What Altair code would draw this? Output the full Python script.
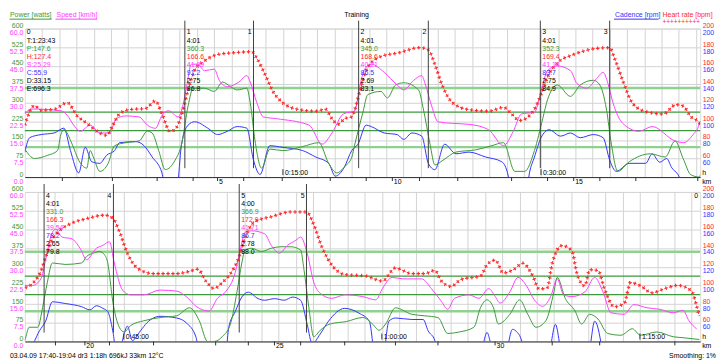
import altair as alt
import pandas as pd

# ---------------- data (x = minutes from start) ----------------
power_t = [0, 0.56, 1.33, 1.9, 2.09, 2.27, 2.75, 3.13, 3.6, 3.8,
           3.98, 4.36, 4.84, 5.22, 5.88, 6.64, 7.12, 7.4, 7.78, 8.16,
           8.73, 9.11, 9.49, 9.78, 10.44, 11.01, 11.49, 11.96, 12.34, 12.9,
           13.1, 13.38, 13.76, 14.24, 15.0, 16.14, 17.09, 17.66, 18.13, 18.6,
           19.0, 19.18, 19.65, 19.93, 20.7, 21.07, 21.55, 22.02, 22.88, 23.16,
           23.55, 23.83, 24.3, 25.06, 26.2, 27.15, 27.82, 28.48, 29.05, 29.62,
           30.1, 30.38, 30.95, 31.71, 32.28, 33.04, 33.42, 33.8, 34.09, 34.46,
           35.13, 36.36, 37.22, 37.79, 38.26, 38.7, 39.2,
           39.25, 39.5, 40.0, 40.28, 40.56, 40.85, 41.6, 42.55, 42.84, 43.22,
           43.6, 43.88, 44.07, 44.36, 44.74, 45.02, 45.4, 46.16, 47.11, 48.07,
           48.82, 49.39, 49.87, 50.25, 50.72, 51.2, 51.58, 51.86, 52.05, 52.43,
           53.0, 53.57, 54.14, 54.71, 55.28, 55.47, 55.76, 56.04, 56.42, 56.99,
           57.94, 58.89, 59.46, 59.84, 60.22, 60.79, 61.74, 62.5, 63.26, 63.83,
           64.5, 65.35, 65.73, 66.11, 66.49, 66.77, 67.44, 68.01, 68.48, 68.96,
           69.53, 70.0, 70.19, 70.66, 71.23, 71.61, 72.08, 72.56, 73.13, 73.89,
           74.56, 75.03, 75.98, 76.93, 77.5, 78.45]
power_w = [113, 75, 88, 107, 171, 191, 133, 68, 36, 107,
           81, 23, 55, 127, 139, 146, 185, 178, 107, 30,
           68, 133, 288, 359, 359, 346, 384, 365, 352, 359,
           300, 146, 36, 113, 107, 123, 139, 55, 17, 43,
           80, 133, 262, 333, 346, 320, 372, 381, 352, 275,
           133, 49, 68, 101, 110, 127, 139, 23, 23, 107,
           236, 313, 372, 326, 372, 391, 372, 275, 133, 23,
           62, 94, 81, 146, 75, 10, 0,
           6, 57, 57, 135, 238, 315, 309, 315, 341, 354,
           361, 348, 315, 161, 57, 38, 64, 83, 96, 103,
           135, 83, 0, 0, 19, 70, 199, 315, 367, 374,
           361, 374, 380, 380, 367, 290, 135, 19, 45, 70,
           80, 96, 70, 45, 70, 135, 109, 103, 96, 32,
           38, 57, 135, 167, 135, 70, 109, 167, 109, 57,
           83, 199, 257, 173, 122, 70, 109, 90, 32, 25,
           51, 25, 38, 19, 15, 8]

speed_t = [0, 0.38, 2.09, 2.47, 2.84, 3.22, 3.8, 4.36, 4.93, 5.31,
           5.88, 6.64, 7.12, 7.59, 7.97, 8.35, 8.92, 9.2, 9.4, 9.68,
           10.06, 10.44, 11.01, 11.3, 11.77, 12.44, 12.9, 13.1, 13.48, 13.86,
           14.62, 16.52, 17.28, 17.85, 18.51, 19.18, 19.46, 19.75, 20.13, 20.89,
           21.64, 22.02, 22.6, 23.07, 23.26, 23.64, 24.02, 24.87, 25.82, 26.96,
           27.82, 28.39, 28.86, 29.62, 30.0, 30.38, 30.95, 31.71, 32.09, 32.66,
           33.23, 33.61, 33.89, 34.18, 34.75, 35.7, 36.46, 37.79, 38.3, 38.83,
           39.15,
           39.25, 39.7, 40.18, 40.46, 40.75, 41.03, 41.41, 41.98, 42.46, 42.84,
           43.41, 43.79, 44.17, 44.45, 44.93, 45.4, 46.16, 47.11, 48.07, 48.63,
           49.2, 49.96, 50.44, 50.91, 51.48, 51.77, 52.05, 52.43, 53.19, 53.57,
           54.05, 54.52, 55.0, 55.28, 55.66, 56.04, 56.42, 57.09, 57.84, 58.89,
           59.65, 60.03, 60.6, 61.26, 62.31, 62.88, 63.46, 63.83, 64.22, 65.07,
           65.64, 66.21, 66.59, 66.87, 67.44, 67.91, 68.39, 68.86, 69.34, 69.81,
           70.19, 70.57, 71.04, 71.8, 72.37, 72.85, 73.32, 74.08, 74.65, 75.41,
           76.17, 76.93, 77.5, 77.85, 78.3]
speed_kmh = [25.5, 27.5, 26.8, 24.9, 21, 18.5, 21, 17.8, 17.8, 23.6,
             24.7, 24.3, 21, 19.7, 24.9, 26.8, 24.3, 29.4, 36.5, 45.6,
             45.6, 43, 43.6, 39.1, 36.5, 38.4, 41, 38.4, 30.1, 24.3,
             23.6, 21, 13.3, 17.8, 25.5, 26.8, 36.5, 43.6, 45.6, 42.3,
             37.2, 35.2, 39.1, 41, 37.8, 28.8, 22.3, 21.7, 21.3, 19.1,
             12.7, 18.5, 25.5, 26.2, 34.6, 43, 44.9, 43, 37.8, 35.9,
             39.8, 42.3, 37.8, 30.1, 21.7, 18.5, 20.4, 14.6, 13.9, 17.1,
             20.4,
             22.5, 22.5, 25.1, 32.8, 41.9, 45.1, 41.9, 41.2, 37.4, 32.8,
             37.4, 38.6, 40, 31.5, 20.6, 18.7, 18.7, 20.6, 20.2, 18,
             14.1, 12.2, 17.3, 19.9, 27.7, 36.7, 43.8, 44.4, 43.2, 38.6,
             35.4, 38.6, 40.6, 41.9, 35.4, 23.8, 19.3, 17.3, 18.7, 18,
             16.7, 21.2, 25.7, 25.1, 25.1, 21.2, 16.1, 12.9, 17.3, 18.7,
             17.3, 21.2, 18, 15.4, 19.9, 25.7, 22.5, 16.7, 14.1, 18,
             25.1, 18.7, 18, 19.9, 25.7, 19.9, 11.5, 10.9, 14.8, 13.5,
             12.9, 11.5, 12.5, 8.3, 5]

hr_t = [0, 0.56, 0.95, 1.7, 2.47, 3.04, 3.6, 4.36, 4.75, 5.12,
        5.5, 6.07, 7.02, 7.59, 7.97, 8.45, 8.83, 9.2, 9.49, 9.87,
        10.44, 11.2, 12.15, 13.19, 13.48, 13.95, 14.43, 15.0, 15.95, 16.9,
        17.47, 17.85, 18.2, 18.6, 19.0, 19.18, 19.46, 19.93, 20.7, 21.64,
        22.98, 23.45, 23.83, 24.3, 24.87, 25.82, 26.96, 27.82, 28.29, 28.76,
        29.24, 29.72, 30.0, 30.38, 30.95, 31.9, 33.23, 33.99, 34.27, 34.75,
        35.3, 36.08, 37.1, 37.85, 38.26, 38.71, 39.2,
        39.25, 39.9, 40.18, 40.46, 40.85, 41.23, 41.98, 42.94, 43.88, 44.36,
        44.74, 45.22, 45.79, 46.73, 48.07, 48.82, 49.3, 49.77, 50.25, 50.72,
        51.29, 51.67, 52.05, 52.62, 53.57, 54.71, 55.62, 56.04, 56.52, 57.09,
        57.84, 59.08, 60.03, 60.79, 61.74, 62.5, 63.08, 63.46, 64.03, 64.6,
        65.73, 66.11, 66.59, 67.06, 67.63, 68.2, 68.77, 69.15, 69.62, 69.9,
        70.47, 71.04, 71.33, 71.8, 72.08, 72.56, 72.94, 73.51, 74.08, 74.46,
        75.03, 75.7, 76.36, 77.2, 78.0, 78.25, 78.45]
hr_bpm = [96, 117, 112, 113, 120, 106, 98, 87.5, 85, 96,
          108, 112.6, 114, 122, 108, 89, 94, 113, 134, 155,
          165, 172, 174, 175, 168, 151, 132, 120, 112.6, 111,
          113, 103, 97, 103, 105, 113, 132, 158, 170, 173.5,
          179.4, 177, 161.5, 137, 120, 112.6, 111, 115, 108, 101,
          104.7, 116.7, 128.8, 147.7, 163, 172, 178.6, 179.4, 168, 144,
          120, 110.5, 108, 118, 116.5, 105, 99,
          97.8, 106.4, 115, 130.5, 149.4, 158, 166.6, 171.8, 175.2, 171.8,
          158, 134, 118.5, 112.6, 112.6, 115, 117.4, 104.7, 96.8, 103,
          115, 128.8, 151.2, 168.3, 173.5, 178.6, 178.6, 165, 140.9, 121.9,
          111.6, 110, 104.7, 118.5, 112.6, 112.6, 116, 104.7, 98.9, 106.4,
          110, 121.9, 127, 113.3, 116.7, 123.6, 110, 96.1, 97.8, 123.6,
          142.5, 137.4, 113.3, 99.6, 116.7, 116, 96.1, 77.2, 80.6, 103,
          99.6, 92, 96, 100, 94, 81, 67]

cad_t = [0, 0.28, 0.95, 1.7, 2.27, 2.65, 3.13, 3.51, 3.89, 4.36,
         4.75, 5.22, 5.5, 6.45, 6.93, 7.4, 7.97, 8.3, 8.7, 9.11,
         9.49, 9.87, 10.63, 11.2, 11.77, 12.34, 12.9, 13.29, 13.67, 14.24,
         15.0, 16.14, 16.9, 17.66, 18.04, 18.55, 19.0, 19.36, 19.84, 20.13,
         20.89, 21.64, 22.02, 22.5, 23.07, 23.45, 23.83, 24.4, 25.06, 25.82,
         26.77, 27.72, 28.1, 28.39, 29.0, 29.33, 29.62, 30.0, 30.47, 31.14,
         31.71, 32.28, 33.04, 33.61, 33.99, 34.37, 35.13, 36.08, 36.46, 36.9,
         37.3, 37.6, 37.95, 38.4, 39.2,
         39.25, 39.75, 40.1, 40.46, 40.85, 41.6, 42.55, 43.03, 43.41, 43.79,
         44.07, 44.36, 44.64, 45.02, 45.21, 45.5, 45.97, 46.35, 47.11, 48.07,
         48.63, 49.2, 49.58, 50.8, 51.1, 51.48, 51.86, 52.24, 52.81, 53.19,
         53.76, 54.33, 54.81, 55.28, 55.66, 55.95, 56.42, 56.9, 57.84, 58.67,
         59.27, 59.65, 60.03, 60.41, 60.79, 61.74, 62.4, 62.69, 63.08, 63.46,
         65.6, 65.93, 66.11, 66.29, 66.6, 67.1, 67.38, 67.6, 67.8, 68.14,
         68.4, 69.6, 69.86, 70.09, 70.31, 70.6, 71.9, 72.15, 72.37, 72.72,
         73.0, 78.45]
cad_rpm = [66.9, 82.4, 85.8, 87.5, 92.7, 68.6, 44.5, 72, 56.5, 54.8,
           63.5, 68.6, 77, 78.2, 73.8, 61.7, 44.5, 0, 0, 75.4,
           96, 99.6, 92.7, 85.8, 89.3, 94.4, 92.7, 58.3, 42.8, 73.8,
           72, 68.6, 61.7, 54.8, 41, 50, 68.6, 75.4, 96, 94.4,
           87.5, 85.8, 80.6, 87.5, 84.1, 54.8, 48, 75.4, 65.1, 66.9,
           61.7, 56.5, 41, 0, 0, 44.5, 61.7, 82.4, 91, 84.1,
           87.5, 82.4, 85.8, 82.4, 58.3, 46.2, 54.8, 54.8, 65, 56,
           60, 50, 43, 25, 0,
           20, 38, 51.4, 61.7, 82.4, 80.6, 77.2, 73.8, 78.2, 75.4,
           72, 51.4, 20, 48, 56.5, 41, 51.4, 60, 66.9, 65.1,
           60, 44.5, 0, 0, 54.8, 72, 87.5, 92.7, 85.8, 84.1,
           85.8, 84.1, 87.5, 84.1, 58.3, 37.6, 48, 61.7, 75.4, 70.3,
           61.7, 20, 20, 61.7, 65.1, 63.5, 63.5, 51.4, 41, 0,
           0, 40, 49.6, 40, 0, 0, 40, 53, 51, 40,
           0, 0, 40, 58.3, 40, 0, 0, 40, 61.7, 40,
           0, 0]

# kilometre marks (time at which each km was passed)
km_t = [2.18, 5.09, 7.69, 9.78, 11.2, 12.72, 14.96, 17.75, 19.84, 21.36,
        22.94, 25.16, 28.29, 30.38, 31.9, 33.42, 35.51, 39.11, 41.03, 42.74,
        44.17, 46.73, 50.34, 52.24, 53.76, 55.28, 57.84, 60.79, 63.26, 66.58,
        69.9, 72.66, 77.03]
km_n = [1, 2, 3, 4, 5, 6, 7, 8, 9, 10, 11, 12, 13, 14, 15, 16, 17, 18, 19, 20,
        21, 22, 23, 24, 25, 26, 27, 28, 29, 30, 31, 32, 33]
clock_t = [15, 30, 45, 60, 75]
clock_lbl = ["0:15:00", "0:30:00", "0:45:00", "1:00:00", "1:15:00"]

# laps
lap_start = [9.30, 19.40, 29.96, 40.37, 51.71]
lap_end = [13.29, 23.45, 33.99, 44.40, 55.62]
lap_no = ["1", "2", "3", "4", "5"]
lap_time = ["4:01", "4:01", "4:01", "4:01", "4:00"]
lap_pw = ["360.3", "345.0", "352.3", "331.0", "366.9"]
lap_hr = ["166.6", "168.6", "169.4", "166.3", "172.9"]
lap_sp = ["41.09", "40.21", "41.14", "39.54", "41.71"]
lap_cd = ["91.2", "86.5", "83.7", "78.2", "86.7"]
lap_km = ["2.75", "2.69", "2.75", "2.65", "2.78"]
lap_kj = ["86.8", "83.1", "84.9", "79.8", "88.0"]
summary_txt = ["0", "T:1:23:43", "P:147.6", "H:127.4", "S:25.29", "C:55.9", "D:33.15", "E:696.3"]
row_kind = ["k", "k", "p", "h", "s", "c", "k", "k"]

zone_heavy = [360, 121]
zone_thin = [262, 188]
pw_ticks = [0, 75, 150, 225, 300, 375, 450, 525, 600]
sp_ticks = [0, 7.5, 15, 22.5, 30, 37.5, 45, 52.5, 60]
bpm_ticks = [60, 80, 100, 120, 140, 160, 180, 200]

for a, b in [(power_t, power_w), (speed_t, speed_kmh), (hr_t, hr_bpm), (cad_t, cad_rpm), (km_t, km_n)]:
    assert len(a) == len(b), (len(a), len(b))

# ---------------- style ----------------
FONT = "Liberation Sans"
FS = 7
W = 682
GRID = "#d2d2d2"
FRAME = "#8c8c8c"
GREEN = "#3c9a3c"
MAG = "#ff40ff"
BLUE = "#3434ff"
RED = "#ff2a2a"
ZONE_L = "#90d090"
ZONE_D = "#3c9a3c"

power_df = pd.DataFrame({"t": power_t, "v": power_w})
speed_df = pd.DataFrame({"t": speed_t, "v": speed_kmh})
hr_df = pd.DataFrame({"t": hr_t, "v": hr_bpm})
cad_df = pd.DataFrame({"t": cad_t, "v": cad_rpm})
km_df = pd.DataFrame({"t": km_t, "km": km_n})
km_df["lbl"] = km_df["km"].astype(str)
clock_df = pd.DataFrame({"t": clock_t, "lbl": clock_lbl})

ann = []
for j, txt in enumerate(summary_txt):
    ann.append({"t": 0.0, "row": j, "txt": txt, "kind": row_kind[j]})
for i in range(len(lap_no)):
    vals = [lap_no[i], lap_time[i], lap_pw[i], lap_hr[i], lap_sp[i], lap_cd[i], lap_km[i], lap_kj[i]]
    for j, txt in enumerate(vals):
        ann.append({"t": lap_start[i], "row": j, "txt": txt, "kind": row_kind[j]})
ann_df = pd.DataFrame(ann)
lapline_df = pd.DataFrame({"t": lap_start + lap_end})
lapend_df = pd.DataFrame({"t": lap_end, "txt": lap_no})


def one(txt):
    return pd.DataFrame({"txt": [txt]})


def label(txt, x, y, color="black", align="left", baseline="top", bold=False, size=FS):
    return alt.Chart(one(txt)).mark_text(
        align=align, baseline=baseline, font=FONT, fontSize=size, color=color,
        fontWeight="bold" if bold else "normal").encode(
        x=alt.value(x), y=alt.value(y), text="txt:N")


def hline(x1, x2, y, color, w=1.0):
    return alt.Chart(one("")).mark_rule(color=color, strokeWidth=w).encode(
        x=alt.value(x1), x2=alt.value(x2), y=alt.value(y))


def panel(t0, t1, H, top=False):
    def X():
        return alt.X("t:Q", scale=alt.Scale(domain=[t0, t1], nice=False, zero=False),
                     axis=alt.Axis(values=list(range(int(t0) + 1, int(t1) + 1)), grid=True,
                                   gridColor=GRID, labels=False, ticks=False, domain=True,
                                   domainColor="#303030", title=None))

    def inr(df):
        return df[(df["t"] >= t0 - 1e-6) & (df["t"] <= t1 + 1e-6)]

    common = dict(labelFont=FONT, labelFontSize=FS, ticks=False, domain=False, title=None,
                  labelFlush=False, labelOverlap=False, labelPadding=2, offset=0)
    ax_pw = alt.Axis(orient="left", values=pw_ticks, labelColor=GREEN, labelBaseline="bottom",
                     grid=True, gridColor=GRID, **common)
    ax_sp = alt.Axis(orient="left", values=sp_ticks, format=".1f", labelColor=MAG,
                     labelBaseline="top", grid=False, **common)
    ax_hr = alt.Axis(orient="right", values=bpm_ticks, labelColor=RED, labelBaseline="bottom",
                     grid=False, **common)
    ax_cd = alt.Axis(orient="right", values=bpm_ticks, labelColor=BLUE, labelBaseline="top",
                     grid=False, **common)

    def yp(field, axis=None):
        return alt.Y(field, scale=alt.Scale(domain=[0, 600], nice=False, zero=False), axis=axis)

    def ybpm(axis=None):
        return alt.Y("v:Q", scale=alt.Scale(domain=[40, 200], nice=False, zero=False), axis=axis)

    layers = []
    layers.append(alt.Chart(pd.DataFrame({"p": zone_heavy})).mark_rule(color=ZONE_L, strokeWidth=2.5)
                  .encode(y=yp("p:Q")))
    layers.append(alt.Chart(pd.DataFrame({"p": zone_thin})).mark_rule(color=ZONE_D, strokeWidth=1.2)
                  .encode(y=yp("p:Q")))
    layers.append(alt.Chart(cad_df).mark_line(color=BLUE, strokeWidth=1, interpolate="monotone", clip=True)
                  .encode(x=X(), y=ybpm(ax_cd)))
    layers.append(alt.Chart(power_df).mark_line(color=GREEN, strokeWidth=1, interpolate="monotone", clip=True)
                  .encode(x=X(), y=yp("v:Q", ax_pw)))
    layers.append(alt.Chart(speed_df).mark_line(color=MAG, strokeWidth=1, interpolate="monotone", clip=True)
                  .encode(x=X(), y=alt.Y("v:Q", scale=alt.Scale(domain=[0, 60], nice=False, zero=False), axis=ax_sp)))
    # heart rate drawn as a row of small "+" marks (two synchronised dash patterns)
    layers.append(alt.Chart(hr_df).mark_line(color=RED, strokeWidth=3.6, strokeDash=[1.1, 3.9],
                                             interpolate="monotone", clip=True)
                  .encode(x=X(), y=ybpm(ax_hr)))
    layers.append(alt.Chart(hr_df).mark_line(color=RED, strokeWidth=1.1, strokeDash=[3.6, 1.4],
                                             strokeDashOffset=1.25, interpolate="monotone", clip=True)
                  .encode(x=X(), y=ybpm()))
    # lap lines
    layers.append(alt.Chart(inr(lapline_df)).mark_rule(color="#404040", strokeWidth=1)
                  .encode(x=X(), y=alt.value(-8), y2=alt.value(H - 9)))
    # lap texts
    layers.append(alt.Chart(inr(ann_df)).mark_text(align="left", baseline="middle", dx=2, font=FONT, fontSize=FS)
                  .encode(x=X(),
                          y=alt.Y("row:Q", scale=alt.Scale(domain=[0, 7], range=[4, 4 + 7 * 8.1]), axis=None),
                          text="txt:N",
                          color=alt.Color("kind:N", scale=alt.Scale(domain=["k", "p", "h", "s", "c"],
                                                                    range=["#000000", GREEN, RED, MAG, BLUE]),
                                          legend=None)))
    layers.append(alt.Chart(inr(lapend_df)).mark_text(align="right", baseline="middle", dx=-2, font=FONT,
                                                      fontSize=FS, color="black")
                  .encode(x=X(), y=alt.value(4), text="txt:N"))
    # km ticks + labels
    kd = inr(km_df)
    layers.append(alt.Chart(kd).mark_rule(color="#303030").encode(x=X(), y=alt.value(H), y2=alt.value(H + 4)))
    layers.append(alt.Chart(kd[kd["km"] % 5 == 0]).mark_text(align="left", baseline="top", dx=1.5, font=FONT,
                                                            fontSize=FS, color="black")
                  .encode(x=X(), y=alt.value(H + 1), text="lbl:N"))
    # clock labels
    cd = inr(clock_df)
    layers.append(alt.Chart(cd).mark_rule(color="#303030").encode(x=X(), y=alt.value(H - 8), y2=alt.value(H - 2)))
    layers.append(alt.Chart(cd).mark_text(align="left", baseline="bottom", dx=2, font=FONT, fontSize=FS,
                                          color="black")
                  .encode(x=X(), y=alt.value(H - 1), text="lbl:N"))
    # unit labels on the right
    layers.append(label("h", W + 2, H - 4, baseline="middle"))
    layers.append(label("km", W + 2, H + 5, baseline="middle"))

    if top:
        layers.append(label("Power [watts]", -15, -18, GREEN))
        layers.append(hline(-15.5, 27, -9.5, GREEN))
        layers.append(label("Speed [km/h]", 32, -18, MAG))
        layers.append(hline(31, 73, -9.5, MAG))
        layers.append(label("Training", 335, -18, "black", align="center"))
        layers.append(label("Cadence [rpm]", 596, -18, BLUE))
        layers.append(hline(595, 640, -9.5, BLUE))
        layers.append(label("Heart rate [bpm]", 644, -18, RED))
        layers.append(label("++++++++++", 644, -6.5, RED, baseline="middle", size=6.5))
    else:
        layers.append(label("0", W - 2, 4, align="right", baseline="middle"))
        layers.append(label("03.04.09 17:40-19:04 dr3 1:18h 696kJ 33km 12\u00b0C", -15, H + 15, baseline="middle"))
        layers.append(label("Smoothing: 1%", W + 16, H + 15, align="right", baseline="middle"))

    return alt.layer(*layers).resolve_scale(y="independent").properties(width=W, height=H)


top_panel = panel(0, 39.25, 150, top=True)
bottom_panel = panel(39.25, 78.5, 151, top=False)

chart = alt.vconcat(top_panel, bottom_panel, spacing=15, bounds="flush").resolve_scale(
    x="independent", y="independent").properties(
    padding={"left": 0, "top": 0, "right": 0, "bottom": 0}).configure_view(
    stroke=FRAME, strokeWidth=1).configure(font=FONT, background="white")

chart.save("out.html", embed_options={"renderer": "svg", "actions": False})
